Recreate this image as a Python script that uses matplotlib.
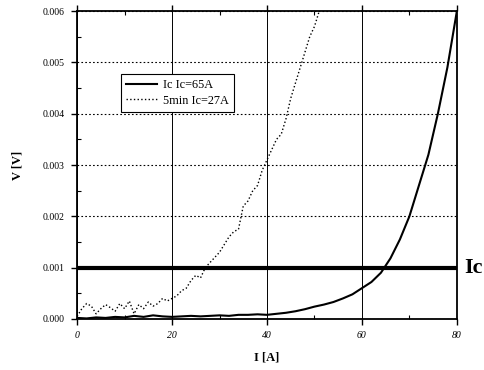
import matplotlib.pyplot as plt
from matplotlib.ticker import MultipleLocator, FormatStrFormatter

# Ic Ic=65A (solid)
ic_current = [0, 2, 4, 6, 8, 10, 12, 14, 16, 18, 20, 22, 24, 26, 28, 30, 32, 34, 36, 38,
              40, 42, 44, 46, 48, 50, 52, 54, 56, 58, 60, 62, 64, 66, 68, 70, 72, 74, 76, 78, 80]
ic_voltage = [0.00002, 0.00001, 0.00003, 0.00002, 0.00004, 0.00003, 0.00006, 0.00004, 0.00007, 0.00005,
              0.00004, 0.00005, 0.00006, 0.00005, 0.00006, 0.00007, 0.00006, 0.00008, 0.00008, 0.00009,
              0.00008, 0.0001, 0.00012, 0.00015, 0.00019, 0.00024, 0.00028, 0.00033, 0.0004, 0.00048,
              0.0006, 0.00072, 0.0009, 0.00118, 0.00155, 0.002, 0.0026, 0.0032, 0.004, 0.0049, 0.006]

# 5min Ic=27A (dotted)
min5_current = list(range(0, 52))
min5_voltage = [0.00005, 0.0002, 0.0003, 0.00025, 0.0001, 0.0002, 0.00028, 0.00022, 0.00015, 0.0003,
                0.0002, 0.00035, 0.0001, 0.00028, 0.0002, 0.00033, 0.00025, 0.0003, 0.0004, 0.00035,
                0.0004, 0.00045, 0.00055, 0.0006, 0.00075, 0.00085, 0.0008, 0.001, 0.0011, 0.0012,
                0.0013, 0.00145, 0.0016, 0.0017, 0.00175, 0.0022, 0.0023, 0.0025, 0.0026, 0.0029,
                0.0031, 0.0033, 0.0035, 0.0036, 0.0039, 0.0043, 0.0046, 0.0049, 0.0052, 0.0055,
                0.0057, 0.006]

ic_level = 0.001

plt.rcParams['font.family'] = ['Liberation Serif']

fig = plt.figure(figsize=(4.85, 3.70), dpi=100)
ax = fig.add_axes([0.159, 0.138, 0.783, 0.832])

ax.plot(ic_current, ic_voltage, color='black', lw=1.5, label='Ic Ic=65A')
ax.plot(min5_current, min5_voltage, color='black', lw=1.0, ls=':', label='5min Ic=27A')
ax.plot([0, 80], [ic_level, ic_level], color='black', lw=3)

ax.set_xlim(0, 80)
ax.set_ylim(0, 0.006)
ax.xaxis.set_major_locator(MultipleLocator(20))
ax.xaxis.set_minor_locator(MultipleLocator(10))
ax.yaxis.set_major_locator(MultipleLocator(0.001))
ax.yaxis.set_minor_locator(MultipleLocator(0.0005))
ax.yaxis.set_major_formatter(FormatStrFormatter('%.3f'))

ax.grid(axis='x', which='major', color='black', lw=0.7, ls='-')
ax.grid(axis='y', which='major', color='black', lw=0.8, ls=(0, (1.5, 2)))

ax.tick_params(which='major', direction='out', length=4, width=1, labelsize=7, pad=5)
ax.tick_params(which='minor', direction='in', length=3, width=0.8, top=True)
ax.tick_params(axis='x', which='major', top=True)
for lab in ax.get_xticklabels():
    lab.set_fontstyle('italic')
for s in ax.spines.values():
    s.set_linewidth(1.3)

ax.set_xlabel('I [A]', fontsize=9, fontweight='bold', labelpad=8)
ax.set_ylabel('V [V]', fontsize=9, fontweight='bold', labelpad=14)

ax.text(1.02, ic_level, 'Ic', transform=ax.get_yaxis_transform(),
        fontsize=16, fontweight='bold', va='center', ha='left')

leg = ax.legend(loc='upper left', bbox_to_anchor=(0.1, 0.815), fontsize=8.8,
                fancybox=False, edgecolor='black', framealpha=1,
                handlelength=2.5, borderpad=0.4, labelspacing=0.3, handletextpad=0.5)
leg.get_frame().set_linewidth(0.8)

fig.savefig('out.png', dpi=100)
